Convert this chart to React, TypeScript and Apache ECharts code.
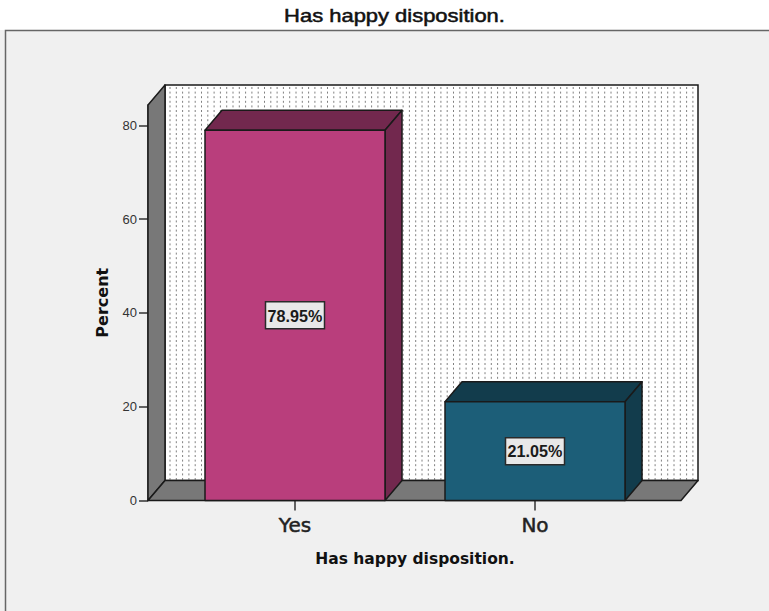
import React, { useEffect, useRef } from "react";
import * as echarts from "echarts";

const categories = ["Yes", "No"];
const percentValues = [78.95, 21.05];
const percentLabels = ["78.95%", "21.05%"];
const frontColors = ["#b93e7c", "#1c5e78"];
const sideColors = ["#72284e", "#123c4c"];
const yTicks = [0, 20, 40, 60, 80];
const chartTitle = "Has happy disposition.";
const xTitle = "Has happy disposition.";
const yTitle = "Percent";

const DX = 17;
const DY = 20;
const EDGE = "#1a1a1a";
const WALL = "#787878";

function poly(points: number[][], fill: string) {
  return {
    type: "polygon",
    shape: { points },
    style: { fill, stroke: EDGE, lineWidth: 1.5, lineJoin: "round" },
  };
}

function renderShell(_params: any, api: any) {
  const [x0, y0] = api.coord([0, 0]);
  const band = api.size([1, 0])[0];
  const top = api.coord([0, 84.33])[1];
  const left = x0 - band / 2 - 27;
  const right = x0 + band * 1.5 + 26;
  const children: any[] = [];
  children.push({
    type: "rect",
    shape: { x: left + DX, y: top - DY, width: right - left, height: y0 - top },
    style: { fill: "#ffffff", stroke: EDGE, lineWidth: 1.5 },
  });
  for (let x = left + DX + 5; x < right + DX - 2; x += 6.3) {
    children.push({
      type: "line",
      shape: { x1: x, y1: top - DY + 2, x2: x, y2: y0 - DY },
      style: { stroke: "#808080", lineWidth: 1, lineDash: [2, 2.6] },
    });
  }
  children.push(
    poly([[left, top], [left + DX, top - DY], [left + DX, y0 - DY], [left, y0]], WALL),
    poly([[left, y0], [left + DX, y0 - DY], [right + DX, y0 - DY], [right, y0]], WALL),
  );
  return { type: "group", children };
}

function renderBar(_params: any, api: any) {
  const idx = api.value(0);
  const [cx, yt] = api.coord([idx, api.value(1)]);
  const [, yb] = api.coord([idx, 0]);
  const [, ym] = api.coord([idx, api.value(1) / 2]);
  const w = api.size([1, 0])[0] * 0.75;
  const l = cx - w / 2;
  const r = cx + w / 2;
  const side = sideColors[idx];
  return {
    type: "group",
    children: [
      poly([[l, yt], [l + DX, yt - DY], [r + DX, yt - DY], [r, yt]], side),
      poly([[r, yt], [r + DX, yt - DY], [r + DX, yb - DY], [r, yb]], side),
      poly([[l, yt], [r, yt], [r, yb], [l, yb]], frontColors[idx]),
      {
        type: "rect",
        shape: { x: cx - 29.5, y: ym - 13.5, width: 59, height: 27 },
        style: { fill: "#e8e8e8", stroke: "#2a2a2a", lineWidth: 1.5 },
      },
      {
        type: "text",
        x: cx,
        y: ym + 0.5,
        scaleX: 0.95,
        style: {
          x: 0,
          y: 0,
          text: percentLabels[idx],
          align: "center",
          verticalAlign: "middle",
          font: "bold 17px 'Liberation Sans'",
          fill: "#1a1a1a",
        },
      },
    ],
  };
}

export default function App() {
  const ref = useRef<HTMLDivElement>(null);
  useEffect(() => {
    document.body.style.background = "#f0f0f0";
    const chart = echarts.init(ref.current!, undefined, { renderer: "svg" });
    chart.setOption({
      animation: false,
      backgroundColor: "#f0f0f0",
      graphic: [
        { type: "rect", shape: { x: 0, y: 0, width: 769, height: 30 }, style: { fill: "#ffffff" }, silent: true },
        { type: "polyline", shape: { points: [[5.5, 611], [5.5, 30.5], [769, 30.5]] }, style: { fill: "none", stroke: "#666", lineWidth: 1.5 }, silent: true },
        {
          type: "text",
          x: 394.5,
          y: 15.5,
          scaleX: 1.22,
          style: {
            x: 0,
            y: 0,
            text: chartTitle,
            align: "center",
            verticalAlign: "middle",
            font: "18px 'Liberation Sans'",
            fill: "#111",
            stroke: "#111",
            lineWidth: 0.5,
          },
          silent: true,
        },
      ],
      grid: { left: 175, width: 480, top: 105, height: 395.5 },
      xAxis: {
        type: "category",
        data: categories,
        axisLine: { show: false },
        axisTick: { show: true, alignWithLabel: true, length: 10, lineStyle: { color: "#333", width: 1.5 } },
        axisLabel: { fontFamily: "DejaVu Sans", fontSize: 20, color: "#222", margin: 14, textBorderColor: "#222", textBorderWidth: 0.5 },
        name: xTitle,
        nameLocation: "middle",
        nameGap: 50,
        nameTextStyle: { fontFamily: "DejaVu Sans", fontSize: 15.5, fontWeight: "bold", color: "#111" },
      },
      yAxis: {
        type: "value",
        min: 0,
        max: 84.33,
        offset: 27,
        splitLine: { show: false },
        axisLine: { show: true, lineStyle: { color: "#333", width: 1.5 } },
        axisTick: { show: true, length: 9, customValues: yTicks, lineStyle: { color: "#333", width: 1.5 } },
        axisLabel: { customValues: yTicks, fontFamily: "Liberation Sans", fontSize: 13, color: "#333", margin: 11 },
        name: yTitle,
        nameLocation: "middle",
        nameGap: 38,
        nameTextStyle: { fontFamily: "DejaVu Sans", fontSize: 16, fontWeight: "bold", color: "#111" },
      },
      series: [
        { type: "custom", data: [[0, 0]], renderItem: renderShell, encode: { x: 0, y: 1 }, z: 1, clip: false, silent: true },
        {
          type: "custom",
          data: percentValues.map((v, i) => [i, v]),
          renderItem: renderBar,
          encode: { x: 0, y: 1 },
          z: 2,
          clip: false,
          silent: true,
        },
      ],
    });
    return () => chart.dispose();
  }, []);
  return <div ref={ref} style={{ position: "absolute", left: 0, top: 0, width: 769, height: 611 }} />;
}
